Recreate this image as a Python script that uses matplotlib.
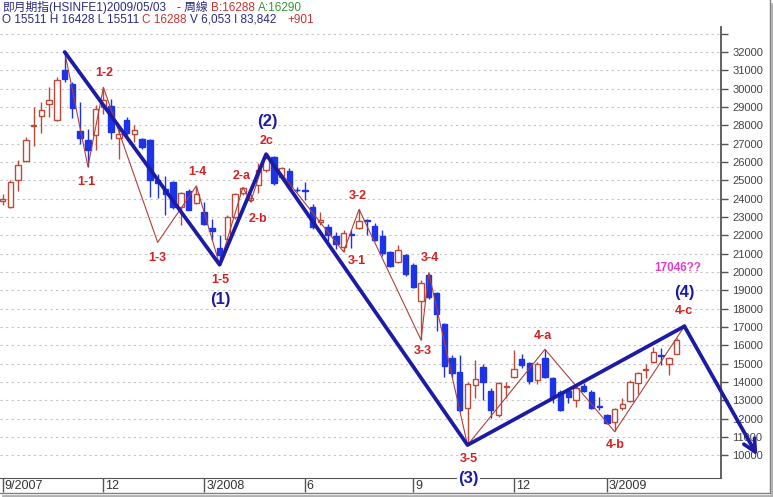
import matplotlib
matplotlib.use('Agg')
import matplotlib.pyplot as plt
import matplotlib.transforms as mtransforms
import pandas as pd

# weekly candles HSINFE1, week of 2007/09/02 .. 2009/05/03
opens = [23900, 23550, 25000, 26040, 27960, 28510, 29180, 28310, 31040, 30270,
         27690, 27220, 27450, 29000, 29040, 27310, 28310, 27510, 27270, 27220,
         25000, 24550, 24910, 23550, 24420, 23760, 23270, 22420, 21310, 21820,
         23000, 24320, 23950, 24740, 25560, 26250, 25200, 25500, 24500, 24500,
         23560, 22750, 22470, 21980, 21380, 22080, 22430, 22850, 22510, 21960,
         21100, 20560, 20930, 20380, 18450, 19840, 18840, 17150, 15300, 14570,
         12570, 13840, 14840, 13530, 12210, 13750, 14260, 15240, 15020, 14110,
         15300, 14210, 13450, 13530, 13020, 13790, 13480, 12680, 12210, 11840,
         12570, 12990, 13930, 14680, 15080, 15480, 14990, 15511]
highs = [24270, 25000, 26090, 27360, 29000, 29270, 30090, 30640, 32000, 30360,
         29270, 27820, 29090, 30070, 29450, 27820, 28450, 28000, 27300, 27250,
         25360, 25240, 24950, 24360, 24550, 24700, 23820, 22910, 22000, 23090,
         24330, 24620, 24250, 25940, 26430, 26350, 25750, 25700, 24650, 24920,
         23700, 23300, 22600, 22200, 22280, 22290, 23420, 22920, 22650, 22280,
         21150, 21500, 21000, 20480, 19550, 19960, 18930, 17250, 15480, 15480,
         14020, 15200, 14990, 13660, 14020, 14020, 15740, 15530, 15110, 15110,
         15790, 14300, 13550, 13680, 13840, 13930, 13570, 13200, 12260, 12570,
         13120, 14110, 14570, 14990, 15930, 15840, 15380, 16428]
lows = [23640, 23500, 24400, 26000, 26870, 27600, 28450, 28220, 30360, 28400,
        27000, 25750, 26640, 28600, 27270, 26180, 27450, 27090, 26730, 24090,
        24040, 23130, 23450, 22550, 23360, 23730, 22550, 21730, 20400, 21730,
        22910, 24200, 23830, 24300, 25450, 24750, 25100, 24500, 24350, 23920,
        22350, 22550, 21700, 21250, 21110, 21300, 22350, 22020, 21700, 20900,
        20280, 20500, 19800, 19150, 16300, 18550, 16800, 14300, 14300, 12390,
        10570, 13120, 13020, 12030, 12120, 13120, 14210, 14750, 13900, 13900,
        14200, 12840, 12400, 12850, 12650, 13470, 12520, 12480, 11740, 11350,
        12480, 12940, 13350, 14210, 15020, 14930, 14390, 15511]
closes = [23980, 24900, 25850, 27220, 28000, 28850, 29400, 30450, 30510, 28950,
          27330, 26670, 28910, 29400, 27640, 27550, 27580, 27730, 26820, 25000,
          24870, 24270, 23550, 24310, 23400, 24270, 22640, 22240, 20910, 23000,
          24270, 24560, 24050, 25560, 26200, 24850, 25650, 24650, 24450, 24420,
          22470, 22850, 22020, 21530, 22110, 22000, 22800, 22780, 21750, 21020,
          20330, 21200, 19900, 19200, 19400, 18650, 17710, 14900, 14480, 12480,
          13900, 14150, 14020, 12480, 13940, 13800, 14700, 14930, 14080, 14990,
          14260, 13200, 12480, 13200, 13660, 13530, 12570, 12630, 11790, 12520,
          12810, 14020, 14480, 14730, 15660, 15400, 15300, 16288]
weeks = pd.date_range('2007-09-02', periods=len(closes), freq='7D')

# wave count (week index, level, label)
wave_idx = [8, 11, 13, 20, 25, 28, 31, 32, 34, 44, 46, 54, 55, 60, 70, 79, 88]
wave_px = [32000, 25750, 30070, 21620, 24700, 20400, 24620, 23830, 26430,
           21110, 23420, 16300, 19960, 10570, 15790, 11300, 17046]
wave_lbl = ['', '1-1', '1-2', '1-3', '1-4', '1-5', '2-a', '2-b', '2c',
            '3-1', '3-2', '3-3', '3-4', '3-5', '4-a', '4-b', '4-c']
major_lbl = {'1-5': '(1)', '2c': '(2)', '3-5': '(3)', '4-c': '(4)'}
target_idx, target_px = 97.4, 10000
tick_labels = ['9/2007', '12', '3/2008', '6', '9', '12', '3/2009']

# label offsets in pixels (dx, dy)
lbl_off = {'1-1': (-2, -15), '1-2': (1, 14), '1-3': (0, -16), '1-4': (1, 14),
           '1-5': (1, -15), '2-a': (-1, 11), '2-b': (7, -17), '2c': (0, 13),
           '3-1': (13, -9), '3-2': (-1, 13), '3-3': (2, -11), '3-4': (1, 15),
           '3-5': (1, -14), '4-a': (-2, 13), '4-b': (0, -13), '4-c': (-1, 15)}
major_off = {'(1)': (1, -35), '(2)': (1, 33), '(3)': (1, -33), '(4)': (0, 34)}

W, H = 773, 497
fig = plt.figure(figsize=(W / 100, H / 100), dpi=100)
ax = fig.add_axes([0, 1 - 478 / H, 721 / W, (478 - 27) / H])

red = '#bb4a3a'
blue_c = '#1c33e8'
navy = '#1b1ba6'

# candles
ups = [c >= o for o, c in zip(opens, closes)]
xs = list(range(len(closes)))
ax.vlines(xs, lows, highs, colors=[red if u else blue_c for u in ups],
          linewidth=1, zorder=2)
ax.bar(xs, [abs(c - o) for o, c in zip(opens, closes)],
       bottom=[min(o, c) for o, c in zip(opens, closes)], width=0.7,
       color=['white' if u else blue_c for u in ups],
       edgecolor=[red if u else blue_c for u in ups], linewidth=1, zorder=3)

# wave lines
ax.plot(wave_idx, wave_px, color='#b0403a', lw=0.8, zorder=4)
maj = [0] + [i for i, l in enumerate(wave_lbl) if l in major_lbl]
ax.plot([wave_idx[i] for i in maj], [wave_px[i] for i in maj],
        color=navy, lw=2.7, zorder=5, solid_capstyle='round')
ax.annotate('', xy=(target_idx, target_px), xytext=(wave_idx[-1], wave_px[-1]),
            arrowprops=dict(arrowstyle='->', color=navy, lw=2.7,
                            mutation_scale=22, shrinkA=0, shrinkB=0),
            annotation_clip=False, zorder=5)

box = dict(boxstyle='square,pad=0.05', fc='white', ec='none')
for i, l, p in zip(wave_idx, wave_lbl, wave_px):
    if not l:
        continue
    ax.annotate(l, (i, p), xytext=lbl_off[l], textcoords='offset pixels',
                ha='center', va='center', color='#d42020', fontsize=9,
                fontweight='bold', family='Liberation Sans', zorder=8, bbox=box)
    if l in major_lbl:
        m = major_lbl[l]
        ax.annotate(m, (i, p), xytext=major_off[m], textcoords='offset pixels',
                    ha='center', va='center', color=navy, fontsize=12,
                    fontweight='bold', family='Liberation Sans', zorder=8,
                    bbox=box, annotation_clip=False)
ax.annotate(f'{wave_px[-1]}??', (wave_idx[-1], wave_px[-1]), xytext=(-7, 58),
            textcoords='offset pixels', ha='center', va='center',
            color='#e040d0', fontsize=8.5, fontweight='bold',
            family='Liberation Sans', zorder=8)

# axes
ax.set_xlim(-0.35, 92.72)
ax.set_ylim(8773, 33364)
yt = list(range(10000, 34000, 1000))
ax.set_yticks(yt)
ax.set_yticklabels([str(v) if v < 33000 else '' for v in yt])
ax.yaxis.tick_right()
ax.tick_params(axis='y', direction='out', length=5, width=1, color='#555555',
               labelsize=8, labelcolor='#444444', pad=3)
for t in ax.get_yticklabels():
    t.set_family('Liberation Sans')
ax.grid(axis='y', color='#c4c4c4', linestyle=(0, (2, 3)), linewidth=0.8)
ax.set_axisbelow(True)

month_pos = []
for m, y in [(9, 2007), (12, 2007), (3, 2008), (6, 2008), (9, 2008), (12, 2008), (3, 2009)]:
    month_pos.append(next(k for k, d in enumerate(weeks) if d.month == m and d.year == y))
ax.set_xticks(month_pos)
ax.set_xticklabels([])
ax.tick_params(axis='x', direction='out', length=10, width=1, color='#555555')
for p, l in zip(month_pos, tick_labels):
    ax.annotate(l, (p, 0), xycoords=('data', 'axes fraction'), xytext=(2, -8),
                textcoords='offset pixels', ha='left', va='center', fontsize=9,
                color='#333333', family=['Liberation Sans Narrow', 'Liberation Sans'],
                annotation_clip=False)

for s in ['top', 'left']:
    ax.spines[s].set_visible(False)
ax.spines['right'].set_color('#555555')
ax.spines['right'].set_linewidth(1.3)
ax.spines['bottom'].set_color('#555555')

# outer frame
fig.add_artist(plt.Line2D([769.5 / W, 769.5 / W], [4 / H, 1], color='#808080', lw=1))
fig.add_artist(plt.Line2D([0, 769.5 / W], [4 / H, 4 / H], color='#808080', lw=1))
fig.add_artist(plt.Line2D([771.5 / W, 771.5 / W], [0, 1 - 4 / H], color='#b0b0b0', lw=2))
fig.add_artist(plt.Line2D([3 / W, 771.5 / W], [1.5 / H, 1.5 / H], color='#b0b0b0', lw=2))

# header
hdr_font = ['Liberation Sans', 'Noto Sans CJK TC', 'DejaVu Sans']
hdr_navy = '#2a2a80'
r = fig.canvas.get_renderer()


def header_line(pieces, y):
    x = 2
    for text, color, gap in pieces:
        t = fig.text(x, y, text, color=color, fontsize=8.5, family=hdr_font,
                     ha='left', va='center', transform=mtransforms.IdentityTransform())
        x += t.get_window_extent(r).width + gap


header_line([('即月期指(HSINFE1)2009/05/03', hdr_navy, 11), ('- 周線', hdr_navy, 3),
             ('B:16288', '#cc3333', 3), ('A:16290', '#339933', 0)], H - 8)
header_line([(f'O {opens[-1]} H {highs[-1]} L {lows[-1]}', hdr_navy, 3),
             (f'C {closes[-1]}', '#cc3333', 3), ('V 6,053 I 83,842', hdr_navy, 11),
             ('+901', '#cc3333', 0)], H - 20)

fig.savefig('out.png', dpi=100)
